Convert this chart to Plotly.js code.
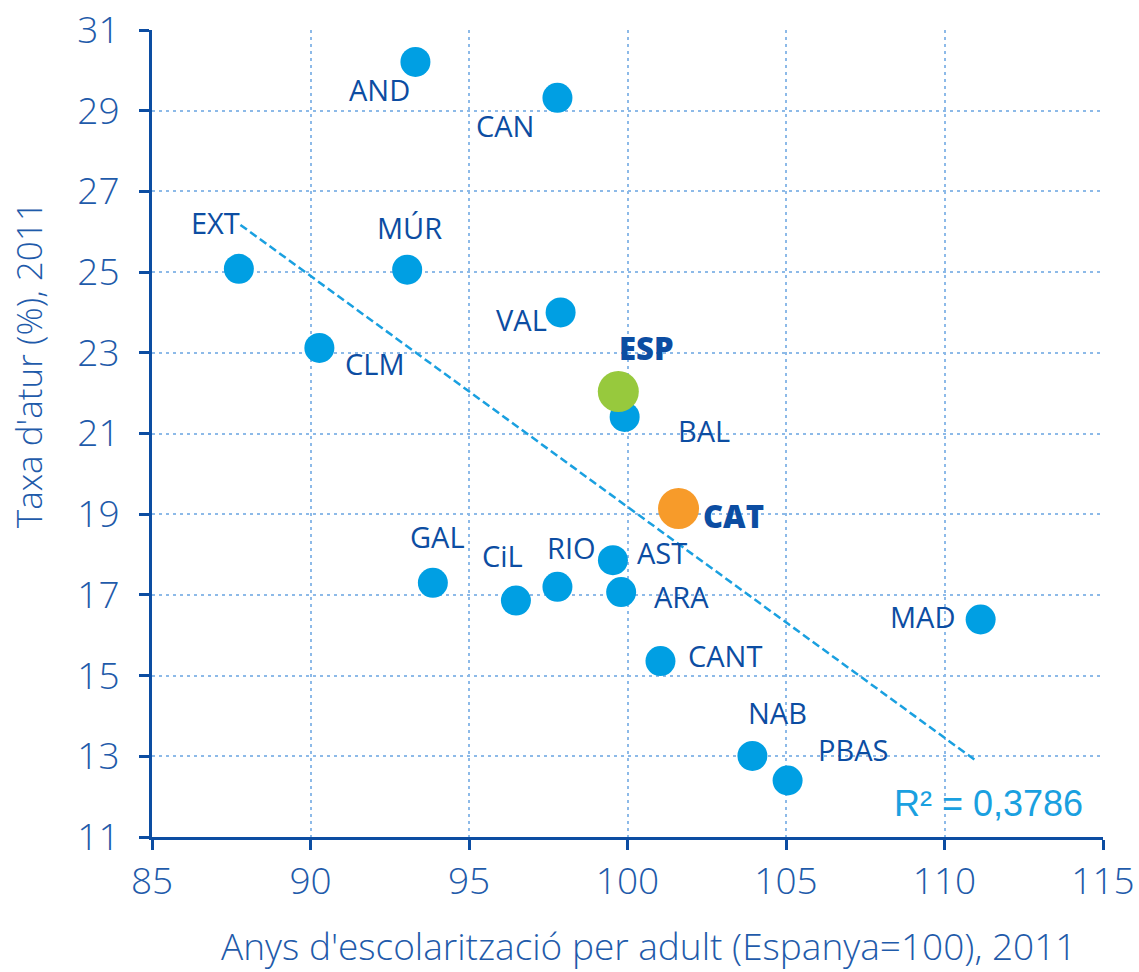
<!DOCTYPE html>
<html>
<head>
<meta charset="utf-8">
<script src="https://cdn.plot.ly/plotly-3.0.1.min.js"></script>
<style>html,body{margin:0;padding:0;background:#fff;}#chart{width:1139px;height:972px;}</style>
</head>
<body>
<div id="chart"></div>
<script>
// Regions (Spanish autonomous communities)
const regions = ["AND","CAN","EXT","MÚR","VAL","CLM","BAL","CAT","GAL","CiL","RIO","AST","ARA","MAD","CANT","NAB","PBAS"];
const schooling = [93.31, 97.79, 87.74, 93.05, 97.89, 90.28, 99.91, 101.61, 93.86, 96.48, 97.79, 99.54, 99.80, 111.14, 101.04, 103.94, 105.05];
const unemployment = [30.21, 29.32, 25.08, 25.06, 24.00, 23.12, 21.41, 19.14, 17.30, 16.86, 17.20, 17.86, 17.07, 16.39, 15.36, 13.01, 12.40];
// Spain total
const espLabel = "ESP";
const espSchooling = 99.71;
const espUnemployment = 22.04;
// linear trend line (ends)
const trendX = [87.79, 111.03];
const trendY = [26.17, 12.87];
const r2Text = "R² = 0,3786";
const xTitle = "Anys d'escolarització per adult (Espanya=100), 2011";
const yTitle = "Taxa d'atur (%), 2011";
const xTicks = [85, 90, 95, 100, 105, 110, 115];
const yTicks = [11, 13, 15, 17, 19, 21, 23, 25, 27, 29, 31];

// label offsets in pixels (dx right, dy up)
const labelOffsets = {
  "AND":[-36,-28],"CAN":[-52,-28],"EXT":[-23,46],"MÚR":[2,42],"VAL":[-39,-7],
  "CLM":[56,-16],"BAL":[79,-14],"CAT":[55,-7],"GAL":[5,46],"CiL":[-13,45],
  "RIO":[14,39],"AST":[49,8],"ARA":[60,-4],"MAD":[-58,3],"CANT":[65,6],
  "NAB":[25,43],"PBAS":[65,31]
};

const blue = "#009FE3", dark = "#0C4DA2", tickCol = "#1F5BAA";
const regionColors = regions.map(r => r==="CAT" ? "#F79B2A" : blue);
const regionSizes = regions.map(r => r==="CAT" ? 41 : 30);

const traces = [
  {x: trendX, y: trendY, mode:"lines", line:{color:"#1AA0E0", width:2.5, dash:"8px,4px"}, hoverinfo:"skip"},
  {x: schooling, y: unemployment, mode:"markers", marker:{color:regionColors, size:regionSizes, opacity:1, line:{width:0}}, text:regions},
  {x: [espSchooling], y: [espUnemployment], mode:"markers", marker:{color:"#97C93D", size:41, opacity:1, line:{width:0}}, text:[espLabel]}
];

const labelFont = {family:"Open Sans, Noto Sans, sans-serif", size:29, color:dark, weight:500};
const boldFont = {family:"Open Sans, Noto Sans, sans-serif", size:31, color:dark, weight:800};
const annotations = regions.map((r,i)=>({
  x: schooling[i], y: unemployment[i], xref:"x", yref:"y", text: r, showarrow:false,
  xshift: labelOffsets[r][0], yshift: labelOffsets[r][1],
  font: r==="CAT" ? boldFont : labelFont
}));
annotations.push({x: espSchooling, y: espUnemployment, xref:"x", yref:"y", text: espLabel, showarrow:false,
  xshift: 28, yshift: 44, font: boldFont});
annotations.push({x: 1, y: 0, xref:"paper", yref:"paper", xanchor:"right", yanchor:"middle", text: r2Text, showarrow:false,
  xshift:-18, yshift:34, font:{family:"Liberation Sans, Arial, sans-serif", size:36, color:"#1AA0E0"}});
const titleFont = {family:"Open Sans, Lato, sans-serif", size:37, color:tickCol, weight:300};
annotations.push({x: 0.5216, y: -0.135, xref:"paper", yref:"paper", xanchor:"center", yanchor:"middle",
  text: xTitle, showarrow:false, font: titleFont});
annotations.push({x: -0.129, y: 0.585, xref:"paper", yref:"paper", xanchor:"center", yanchor:"middle",
  text: yTitle, textangle:-90, showarrow:false, font: Object.assign({}, titleFont, {size:35})});

const axisCommon = {
  showline:true, linecolor:dark, linewidth:3, ticks:"outside", ticklen:10, tickwidth:3, tickcolor:dark,
  showgrid:true, gridcolor:"#8DBAE8", gridwidth:2, griddash:"3px,4px", zeroline:false,
  tickfont:{family:"Open Sans, Lato, sans-serif", size:37, color:tickCol, weight:300}
};

const layout = {
  width:1139, height:972, paper_bgcolor:"#fff", plot_bgcolor:"#fff", showlegend:false,
  margin:{l:152, r:36, t:30, b:135},
  xaxis: Object.assign({}, axisCommon, {range:[85,115], tickvals:xTicks, ticktext:xTicks.map(String)}),
  yaxis: Object.assign({}, axisCommon, {range:[11,31], tickvals:yTicks, ticktext:yTicks.map(String), ticklabelstandoff:12}),
  annotations: annotations
};

Plotly.newPlot("chart", traces, layout, {displayModeBar:false, staticPlot:true});
</script>
</body>
</html>
